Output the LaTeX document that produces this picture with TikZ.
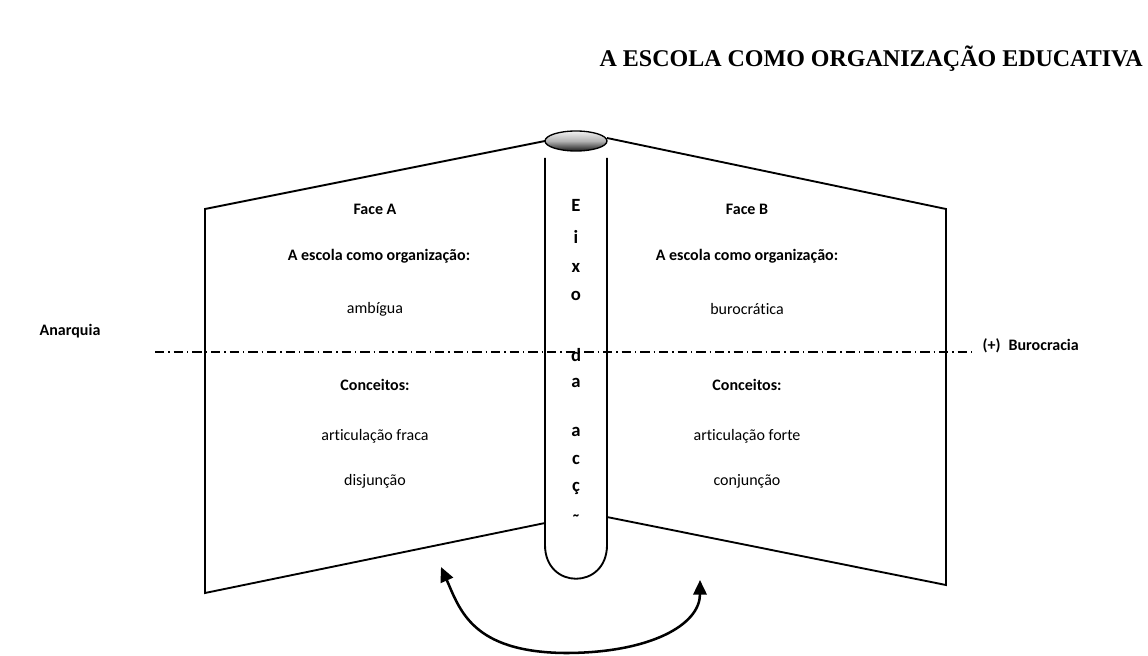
\documentclass[tikz,border=0pt]{standalone}
\usepackage{fontspec}
\setmainfont[Ligatures=NoCommon]{Carlito}
\newfontfamily\titlefont{Liberation Serif}
\usetikzlibrary{arrows.meta, positioning, shapes.geometric}
\tikzstyle{panel} = [draw=black, line width=1.4pt]
\tikzstyle{plain} = [font=\fontsize{12}{14}\selectfont]
\tikzstyle{heading} = [font=\fontsize{12}{14}\selectfont\bfseries]
\tikzstyle{letter} = [font=\fontsize{14}{16}\selectfont\bfseries, inner sep=0pt]
\tikzstyle{axisline} = [line width=0.8pt, dash pattern=on 7pt off 3pt on 1pt off 3pt]
\tikzstyle{turn} = [line width=1.9pt, {Triangle[length=11pt,width=10pt]}-{Triangle[length=11pt,width=10pt]}]

\begin{document}
\begin{tikzpicture}[x=0.75pt, y=-0.75pt]
\useasboundingbox (0,0) rectangle (1148,656);

% Title
\node (title) [anchor=east, font=\titlefont\fontsize{18}{20}\selectfont\bfseries, inner sep=0pt] at (1143,59) {A ESCOLA COMO ORGANIZAÇÃO EDUCATIVA};

% Faces
\draw [panel] (545,141) -- (205,209) -- (205,593) -- (545,523);
\draw [panel] (607,138) -- (946,209) -- (946,585) -- (607,517);

% Axis
\draw [panel] (545,158) -- (545,545) .. controls (545,590) and (607,590) .. (607,545) -- (607,158);
\node (cap) [ellipse, draw=black, line width=1pt, minimum width=46.5pt, minimum height=15pt, inner sep=0pt, top color=gray!10, bottom color=black!90, middle color=gray!60] at (576,141) {};

% Dash-dot line
\draw [axisline] (155,352) -- (975,352);
\node (anarquia) [heading, anchor=west] at (35,331) {Anarquia};
\node (burocracia) [heading, anchor=west] at (978,346) {(+)\enspace Burocracia};

% Face A
\node (faceA) [heading] at (375,209) {Face A};
\node (orgA) [heading] at (379,256) {A escola como organização:};
\node (ambigua) [plain] at (375,309) {ambígua};
\node (concA) [heading] at (375,385) {Conceitos:};
\node (fraca) [plain] at (375,436) {articulação fraca};
\node (disjuncao) [plain] at (375,481) {disjunção};

% Face B
\node (faceB) [heading] at (747,209) {Face B};
\node (orgB) [heading] at (747,256) {A escola como organização:};
\node (burocratica) [plain] at (747,309) {burocrática};
\node (concB) [heading] at (747,385) {Conceitos:};
\node (forte) [plain] at (747,436) {articulação forte};
\node (conjuncao) [plain] at (747,481) {conjunção};

% Eixo da acção
\foreach \ch/\y in {E/205, i/237, x/268, o/296, d/355, a/383, a/432, c/460, ç/488}
  \node [letter] at (576,\y) {\ch};
\begin{scope}
  \clip (550,500) rectangle (602,516);
  \node (last) [letter] at (576,521) {ã};
\end{scope}

% Rotation
\coordinate (turnL) at (441,567);
\coordinate (turnR) at (700,580);
\draw [turn] (turnL) .. controls (460,610) and (472,652) .. (565,653) .. controls (650,653) and (700,625) .. (turnR);

\end{tikzpicture}
\end{document}
